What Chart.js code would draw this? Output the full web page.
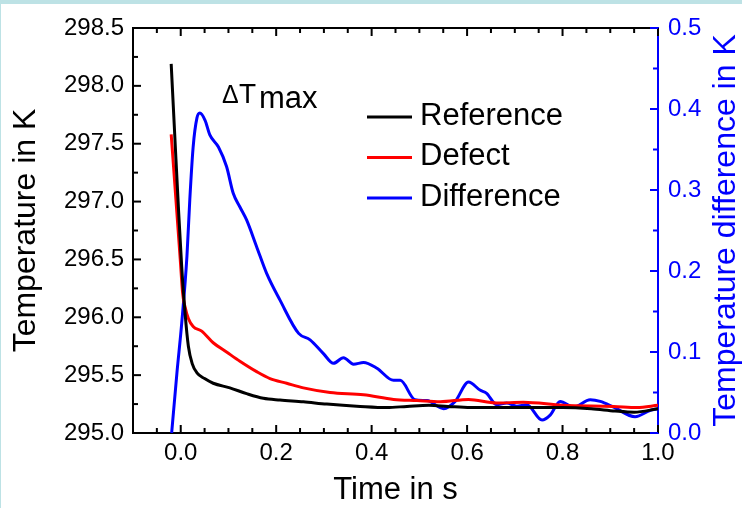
<!DOCTYPE html>
<html>
<head>
<meta charset="utf-8">
<script src="https://cdn.jsdelivr.net/npm/chart.js@4.4.1/dist/chart.umd.min.js"></script>
<style>
  html, body { margin: 0; padding: 0; background: #ffffff; }
  #wrap { position: relative; width: 742px; height: 508px; }
  #bandTop { position: absolute; left: 0; top: 0; width: 742px; height: 4px; background: #bde2e5; }
  #bandLeft { position: absolute; left: 0; top: 0; width: 1px; height: 508px; background: #bde2e5; }
</style>
</head>
<body>
<div id="wrap">
  <canvas id="tempChart"></canvas>
  <div id="bandTop"></div>
  <div id="bandLeft"></div>
</div>
<script>
// Reference measurement (black), temperature in K
const refTime = [-0.020, -0.012, -0.005, 0.002, 0.009, 0.016, 0.024, 0.034, 0.050, 0.068, 0.103, 0.138, 0.173, 0.208, 0.257, 0.306, 0.376, 0.432, 0.474, 0.520, 0.560, 0.607, 0.660, 0.720, 0.800, 0.860, 0.910, 0.950, 1.000];
const refTemp = [298.19, 297.53, 296.96, 296.44, 296.04, 295.75, 295.60, 295.52, 295.47, 295.43, 295.39, 295.34, 295.30, 295.285, 295.27, 295.25, 295.23, 295.22, 295.23, 295.24, 295.23, 295.22, 295.22, 295.22, 295.22, 295.21, 295.19, 295.18, 295.21];

// Defect measurement (red), temperature in K
const defTime = [-0.020, -0.015, -0.008, -0.001, 0.004, 0.009, 0.016, 0.026, 0.044, 0.068, 0.096, 0.124, 0.159, 0.187, 0.222, 0.257, 0.313, 0.383, 0.446, 0.495, 0.544, 0.603, 0.662, 0.718, 0.800, 0.907, 0.956, 1.000];
const defTemp = [297.58, 297.30, 296.90, 296.50, 296.21, 296.09, 295.99, 295.92, 295.88, 295.78, 295.70, 295.62, 295.53, 295.47, 295.43, 295.39, 295.35, 295.33, 295.29, 295.28, 295.27, 295.29, 295.26, 295.265, 295.24, 295.23, 295.22, 295.24];

// Difference (blue), right axis in K
const diffTime = [-0.019, -0.008, 0.002, 0.013, 0.019, 0.026, 0.034, 0.040, 0.051, 0.061, 0.079, 0.096, 0.110, 0.124, 0.138, 0.159, 0.180, 0.208, 0.247, 0.271, 0.299, 0.320, 0.341, 0.362, 0.383, 0.411, 0.446, 0.460, 0.491, 0.516, 0.551, 0.575, 0.603, 0.627, 0.641, 0.662, 0.683, 0.704, 0.725, 0.757, 0.774, 0.795, 0.823, 0.858, 0.879, 0.907, 0.952, 0.984, 1.000];
const diffVal = [0.000, 0.074, 0.135, 0.218, 0.288, 0.353, 0.389, 0.395, 0.386, 0.368, 0.353, 0.329, 0.296, 0.279, 0.263, 0.230, 0.197, 0.164, 0.123, 0.115, 0.098, 0.086, 0.093, 0.085, 0.087, 0.080, 0.065, 0.065, 0.041, 0.040, 0.030, 0.039, 0.063, 0.053, 0.049, 0.035, 0.037, 0.033, 0.035, 0.016, 0.022, 0.039, 0.032, 0.041, 0.039, 0.032, 0.020, 0.028, 0.030];

const seriesLabels = ['Reference', 'Defect', 'Difference'];
const seriesColors = ['#000000', '#ff0000', '#0000ff'];
const rightTitle = 'Temperature difference in K';

const FONT = '"Liberation Sans", Arial, sans-serif';
Chart.defaults.font.family = FONT;

function isMultiple(v, step) {
    const r = v / step;
    return Math.abs(r - Math.round(r)) < 1e-6;
}

function fmt(v) {
    return (Math.abs(v) < 1e-9 ? 0 : v).toFixed(1);
}

function toPoints(xs, ys) {
    return xs.map((x, i) => ({ x: x, y: ys[i] }));
}

// inward tick marks on all four sides, plus the top frame line
const innerTicks = {
    id: 'innerTicks',
    afterDraw(chart) {
        const ctx = chart.ctx;
        const area = chart.chartArea;
        const sx = chart.scales.x, sy = chart.scales.y, sy1 = chart.scales.y1;
        ctx.save();
        ctx.lineWidth = 2;

        ctx.strokeStyle = '#000000';
        ctx.beginPath();
        ctx.moveTo(area.left, area.top);
        ctx.lineTo(area.right, area.top);
        ctx.stroke();

        sx.ticks.forEach(t => {
            const px = sx.getPixelForValue(t.value);
            const len = isMultiple(t.value, 0.2) ? 8 : 5;
            ctx.beginPath();
            ctx.moveTo(px, area.bottom);
            ctx.lineTo(px, area.bottom - len);
            ctx.moveTo(px, area.top);
            ctx.lineTo(px, area.top + len);
            ctx.stroke();
        });

        sy.ticks.forEach(t => {
            const py = sy.getPixelForValue(t.value);
            const len = isMultiple(t.value, 0.5) ? 8 : 5;
            ctx.beginPath();
            ctx.moveTo(area.left, py);
            ctx.lineTo(area.left + len, py);
            ctx.stroke();
        });

        ctx.strokeStyle = '#0000ff';
        sy1.ticks.forEach(t => {
            const py = sy1.getPixelForValue(t.value);
            const len = isMultiple(t.value, 0.1) ? 8 : 5;
            ctx.beginPath();
            ctx.moveTo(area.right, py);
            ctx.lineTo(area.right - len, py);
            ctx.stroke();
        });

        // right axis title reads bottom-to-top, like the left one
        ctx.save();
        ctx.translate(sy1.right - 16, (area.top + area.bottom) / 2);
        ctx.rotate(-Math.PI / 2);
        ctx.fillStyle = '#0000ff';
        ctx.font = '32px ' + FONT;
        ctx.textAlign = 'center';
        ctx.textBaseline = 'middle';
        ctx.fillText(rightTitle, 0, 0);
        ctx.restore();

        ctx.restore();
    }
};

// legend inside the plot, and the ΔTmax note
const insideLegend = {
    id: 'insideLegend',
    afterDraw(chart) {
        const ctx = chart.ctx;
        const area = chart.chartArea;
        const x0 = area.left + 234;
        const y0 = area.top + 89;
        ctx.save();
        chart.data.datasets.forEach((ds, i) => {
            const yy = y0 + i * 40.5;
            ctx.strokeStyle = ds.borderColor;
            ctx.lineWidth = 3;
            ctx.beginPath();
            ctx.moveTo(x0, yy);
            ctx.lineTo(x0 + 45, yy);
            ctx.stroke();
            ctx.fillStyle = '#000000';
            ctx.font = '31px ' + FONT;
            ctx.textAlign = 'left';
            ctx.textBaseline = 'middle';
            ctx.fillText(ds.label, x0 + 53, yy - 1);
        });

        const ax = area.left + 89;
        const ay = area.top + 75;
        ctx.fillStyle = '#000000';
        ctx.textBaseline = 'alphabetic';
        ctx.font = '25px ' + FONT;
        ctx.fillText('\u0394', ax, ay);
        ctx.font = '28px ' + FONT;
        ctx.fillText('T', ax + 17, ay);
        ctx.font = '31px ' + FONT;
        ctx.fillText('max', ax + 37, ay + 5);
        ctx.restore();
    }
};

const datasets = [
    { label: seriesLabels[0], data: toPoints(refTime, refTemp), borderColor: seriesColors[0], yAxisID: 'y' },
    { label: seriesLabels[1], data: toPoints(defTime, defTemp), borderColor: seriesColors[1], yAxisID: 'y' },
    { label: seriesLabels[2], data: toPoints(diffTime, diffVal), borderColor: seriesColors[2], yAxisID: 'y1' }
];

new Chart(document.getElementById('tempChart'), {
    type: 'line',
    data: { datasets: datasets },
    options: {
        responsive: true,
        maintainAspectRatio: false,
        animation: false,
        layout: { padding: { top: 28, left: 0, right: 0, bottom: 0 } },
        plugins: {
            legend: { display: false },
            tooltip: { enabled: false }
        },
        elements: {
            point: { radius: 0 },
            line: { borderWidth: 3, cubicInterpolationMode: 'monotone', fill: false }
        },
        scales: {
            x: {
                type: 'linear',
                min: -0.1,
                max: 1.0,
                afterFit: s => { s.height = 75; },
                grid: { drawOnChartArea: false, drawTicks: false },
                border: { color: '#000000', width: 2 },
                ticks: {
                    stepSize: 0.05, maxTicksLimit: 100, autoSkip: false, maxRotation: 0,
                    padding: 6, color: '#000000', font: { size: 24 },
                    callback: v => isMultiple(v, 0.2) ? fmt(v) : ''
                },
                title: { display: true, text: 'Time in s', color: '#000000', font: { size: 31, lineHeight: 1.1 }, padding: 0 }
            },
            y: {
                position: 'left',
                min: 295,
                max: 298.5,
                afterFit: s => { s.width = 133; },
                grid: { drawOnChartArea: false, drawTicks: false },
                border: { color: '#000000', width: 2 },
                ticks: {
                    stepSize: 0.25, maxTicksLimit: 100, autoSkip: false,
                    padding: 9, color: '#000000', font: { size: 24 },
                    callback: v => isMultiple(v, 0.5) ? fmt(v) : ''
                },
                title: { display: true, text: 'Temperature in K', color: '#000000', font: { size: 32, lineHeight: 1.2 }, padding: { top: 7, bottom: 0 } }
            },
            y1: {
                position: 'right',
                min: 0,
                max: 0.5,
                afterFit: s => { s.width = 84; },
                grid: { drawOnChartArea: false, drawTicks: false },
                border: { color: '#0000ff', width: 2 },
                ticks: {
                    stepSize: 0.05, maxTicksLimit: 100, autoSkip: false,
                    padding: 10, color: '#0000ff', font: { size: 24 },
                    callback: v => isMultiple(v, 0.1) ? fmt(v) : ''
                },
                title: { display: false }
            }
        }
    },
    plugins: [innerTicks, insideLegend]
});
</script>
</body>
</html>
